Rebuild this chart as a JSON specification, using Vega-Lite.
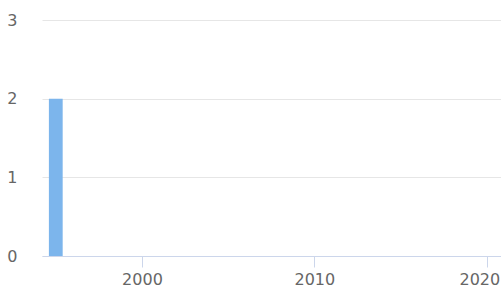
{
  "$schema": "https://vega.github.io/schema/vega-lite/v6.json",
  "width": 459,
  "height": 236,
  "autosize": {"type": "none"},
  "padding": {"left": 42, "top": 20, "right": 0, "bottom": 33},
  "background": "white",
  "config": {"view": {"stroke": null}, "font": "DejaVu Sans"},
  "data": {"values": [{"year_start": 1994.6, "year_end": 1995.4, "count": 2}]},
  "mark": {"type": "rect", "color": "#7cb5ec", "clip": true},
  "encoding": {
    "x": {
      "field": "year_start", "type": "quantitative",
      "scale": {"domain": [1994.2, 2020.83], "nice": false, "zero": false},
      "axis": {
        "title": null, "values": [2000, 2010, 2020], "format": "d", "grid": false,
        "domainColor": "#ccd6eb", "tickColor": "#ccd6eb", "tickSize": 11,
        "labelColor": "#666666", "labelFontSize": 16, "labelPadding": 4,
        "labelFont": "DejaVu Sans", "labelOverlap": false, "labelBound": false, "labelFlush": false,
        "labelAlign": {"condition": {"test": "datum.value == 2020", "value": "right"}, "value": "center"},
        "labelOffset": {"condition": {"test": "datum.value == 2020", "value": 13}, "value": 0}
      }
    },
    "x2": {"field": "year_end"},
    "y": {
      "field": "count", "type": "quantitative",
      "scale": {"domain": [0, 3], "nice": false, "zero": true},
      "axis": {
        "title": null, "values": [0, 1, 2, 3], "domain": false, "ticks": false,
        "gridColor": "#e6e6e6", "labelColor": "#666666", "labelFontSize": 16,
        "labelFont": "DejaVu Sans", "labelPadding": 25, "labelBaseline": "middle"
      }
    },
    "y2": {"datum": 0}
  }
}
